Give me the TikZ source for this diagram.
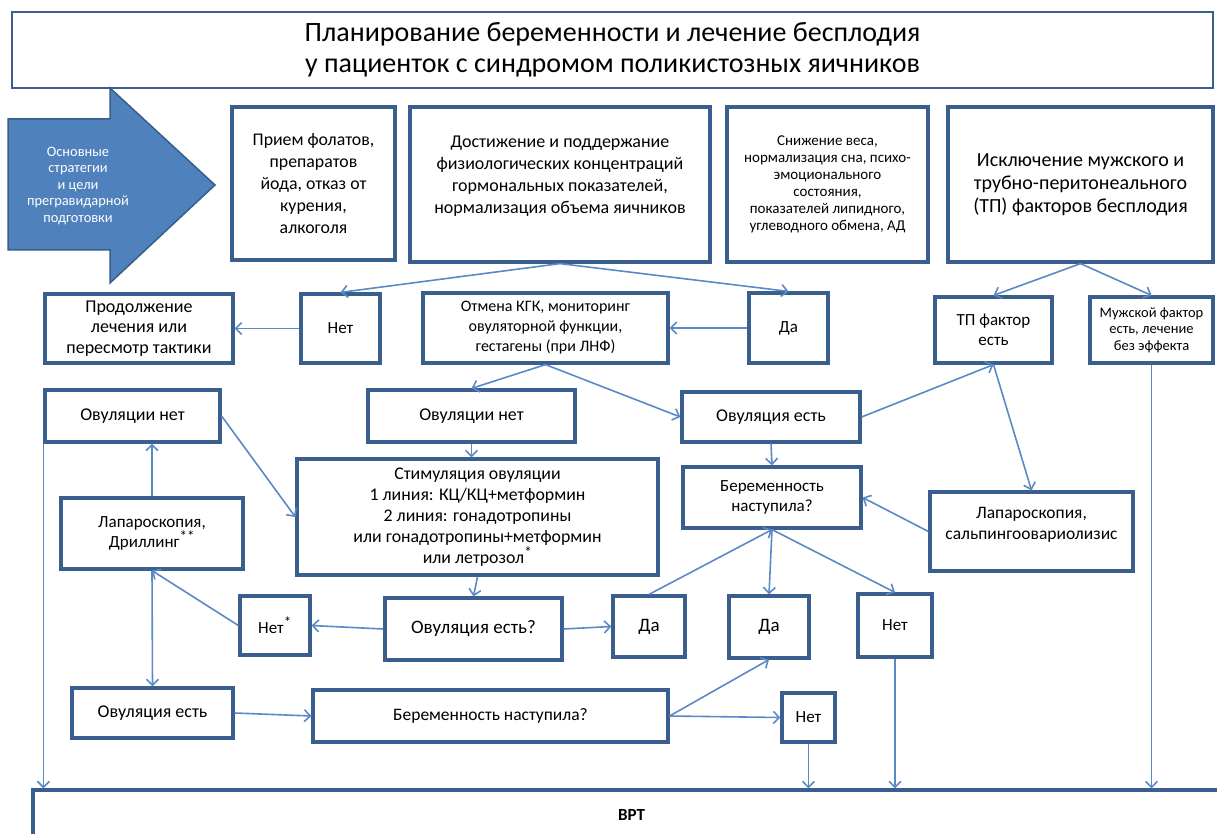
\documentclass[tikz,border=0pt]{standalone}
\usepackage{fontspec}
\setmainfont{Carlito}
\usetikzlibrary{arrows.meta, calc}

\definecolor{boxline}{HTML}{3A5F8F}
\definecolor{connline}{HTML}{5B89C6}
\definecolor{arrowfill}{HTML}{4F81BD}
\definecolor{arrowline}{HTML}{385D8A}

\newcommand\fnote[1]{\textsuperscript{\fontsize{15}{15}\selectfont #1}}

\tikzset{
  box/.style = {draw=boxline, line width=3.2pt, fill=white, align=center,
                inner sep=0pt, font=\fontsize{17}{20.5}\selectfont},
  big/.style = {font=\fontsize{18}{22}\selectfont},
  small/.style = {font=\fontsize{16}{19.5}\selectfont},
  tiny/.style = {font=\fontsize{15}{17}\selectfont},
  conn/.style = {draw=connline, line width=1.6pt,
                 -{Straight Barb[length=6pt,width=12pt]}}
}

\begin{document}
\begin{tikzpicture}[x=1pt, y=-1pt]
  \clip (0,0) rectangle (1217,834);
  % title
  \node[box, line width=2.4pt, minimum width=1201, minimum height=76,
        font=\fontsize{28}{31}\selectfont] (title) at (612.5,50)
    {Планирование беременности и лечение бесплодия\\у пациенток с синдромом поликистозных яичников};
  % big arrow
  \filldraw[fill=arrowfill, draw=arrowline, line width=1.5pt]
    (8,119) -- (110,119) -- (110,88) -- (215,185) -- (110,283) -- (110,250) -- (8,250) -- cycle;
  \node[text=white, align=center, font=\fontsize{14.4}{16.5}\selectfont] (goal) at (78,186)
    {Основные\\стратегии\\и цели\\прегравидарной\\подготовки};

  % top row
  \node[box, font=\fontsize{17.8}{22}\selectfont, minimum width=163, minimum height=153] (folat) at (313.5,183.5)
    {Прием фолатов,\\препаратов\\йода, отказ от\\курения,\\алкоголя};
  \node[box, big, minimum width=300, minimum height=155] (horm) at (560,184.5)
    {Достижение и поддержание\\физиологических концентраций\\гормональных показателей,\\нормализация объема яичников\\[-3pt]};
  \node[box, tiny, minimum width=201, minimum height=155] (diet) at (827.5,184.5)
    {Снижение веса,\\нормализация сна, психо-\\эмоционального\\состояния,\\показателей липидного,\\углеводного обмена, АД};
  \node[box, font=\fontsize{20}{23}\selectfont, minimum width=265, minimum height=155] (excl) at (1080.5,184.5)
    {Исключение мужского и\\трубно-перитонеального\\(ТП) факторов бесплодия};

  % second row
  \node[box, font=\fontsize{18}{20.5}\selectfont, minimum width=188, minimum height=69] (cont) at (139,328.5)
    {Продолжение\\лечения или\\пересмотр тактики};
  \node[box, minimum width=79, minimum height=69] (no1) at (340.5,328.5) {Нет};
  \node[box, small, font=\fontsize{16}{20}\selectfont, minimum width=245, minimum height=70] (cancel) at (545.5,328)
    {Отмена КГК, мониторинг\\овуляторной функции,\\гестагены (при ЛНФ)};
  \node[box, minimum width=79, minimum height=70] (yes1) at (788.5,328) {Да};
  \node[box, minimum width=117, minimum height=66] (tpf) at (993.5,330)
    {ТП фактор\\есть};
  \node[box, font=\fontsize{14.5}{16.5}\selectfont, minimum width=123, minimum height=66] (male) at (1151.5,330)
    {Мужской фактор\\есть, лечение\\без эффекта};

  % third row
  \node[box, big, minimum width=175, minimum height=52] (ovnoL) at (132.5,416) {Овуляции нет};
  \node[box, big, minimum width=207, minimum height=52] (ovnoM) at (471.5,416) {Овуляции нет};
  \node[box, big, minimum width=178, minimum height=50] (ovyesR) at (771,417) {Овуляция есть};

  % middle
  \node[box, font=\fontsize{17.8}{21}\selectfont, minimum width=361, minimum height=116] (stim) at (477.5,517)
    {Стимуляция овуляции\\1 линия: КЦ/КЦ+метформин\\2 линия: гонадотропины\\или гонадотропины+метформин\\или летрозол\fnote{*}};
  \node[box, minimum width=178, minimum height=61] (preg1) at (772,497.5)
    {Беременность\\наступила?};
  \node[box, font=\fontsize{17.5}{20.5}\selectfont, minimum width=203, minimum height=79] (lapTP) at (1031.5,531.5)
    {Лапароскопия,\\сальпингоовариолизис\\[-4pt]};
  \node[box, minimum width=182, minimum height=71] (lapDr) at (152,533.5)
    {Лапароскопия,\\Дриллинг\fnote{**}};

  % answers
  \node[box, minimum width=70, minimum height=59] (noStar) at (275,625.5) {Нет\fnote{*}};
  \node[box, font=\fontsize{19}{22}\selectfont, minimum width=177, minimum height=62] (ovq) at (473.5,629) {Овуляция есть?};
  \node[box, font=\fontsize{19}{22}\selectfont, minimum width=72, minimum height=61] (yes2) at (649,626.5) {Да};
  \node[box, font=\fontsize{19}{22}\selectfont, minimum width=80, minimum height=62] (yes3) at (769,627) {Да};
  \node[box, minimum width=74, minimum height=63] (no3) at (895,625.5) {Нет};

  % bottom row
  \node[box, big, minimum width=161, minimum height=50] (ovyesB) at (152.5,713) {Овуляция есть};
  \node[box, font=\fontsize{17.5}{20}\selectfont, minimum width=355, minimum height=52] (preg2) at (490.5,716) {Беременность наступила?};
  \node[box, minimum width=53, minimum height=49] (no4) at (808.5,717.5) {Нет};
  \node[box, font=\bfseries\fontsize{17}{19}\selectfont, minimum width=1197, minimum height=50] (art) at (631.5,815) {ВРТ};

  % connectors
  \draw[conn] (horm.south) -- (no1.north);
  \draw[conn] (horm.south) -- (yes1.north);
  \draw[conn] (no1.west) -- (cont.east);
  \draw[conn] (yes1.west) -- (cancel.east);
  \draw[conn] (cancel.south) -- (ovnoM.north);
  \draw[conn] (cancel.south) -- (ovyesR.west);
  \draw[conn] (ovyesR.east) -- (tpf.south);
  \draw[conn] (tpf.south) -- (lapTP.north);
  \draw[conn] (excl.south) -- (tpf.north);
  \draw[conn] (excl.south) -- (male.north);
  \draw[conn] (male.south) -- (male.south |- art.north);
  \draw[conn] (lapTP.west) -- (preg1.east);
  \draw[conn] (ovyesR.south) -- (preg1.north);
  \draw[conn] (preg1.south) -- (yes3.north);
  \draw[conn] (preg1.south) -- (no3.north);
  \draw[conn] (yes2.north) -- (preg1.south);
  \draw[conn] (ovnoM.south) -- (ovnoM.south |- stim.north);
  \draw[conn] (ovnoL.east) -- (stim.west);
  \draw[conn] (stim.south) -- (ovq.north);
  \draw[conn] (ovq.west) -- (noStar.east);
  \draw[conn] (ovq.east) -- (yes2.west);
  \draw[conn] (noStar.west) -- (lapDr.south);
  \draw[conn] (lapDr.north) -- (lapDr.north |- ovnoL.south);
  \draw[conn] (lapDr.south) -- (ovyesB.north);
  \draw[conn] (ovyesB.east) -- (preg2.west);
  \draw[conn] (preg2.east) -- (yes3.south);
  \draw[conn] (preg2.east) -- (no4.west);
  \draw[conn] (no4.south) -- (no4.south |- art.north);
  \draw[conn] (no3.south) -- (no3.south |- art.north);
  \draw[conn] (ovnoL.south west) -- (ovnoL.south west |- art.north);
\end{tikzpicture}
\end{document}
